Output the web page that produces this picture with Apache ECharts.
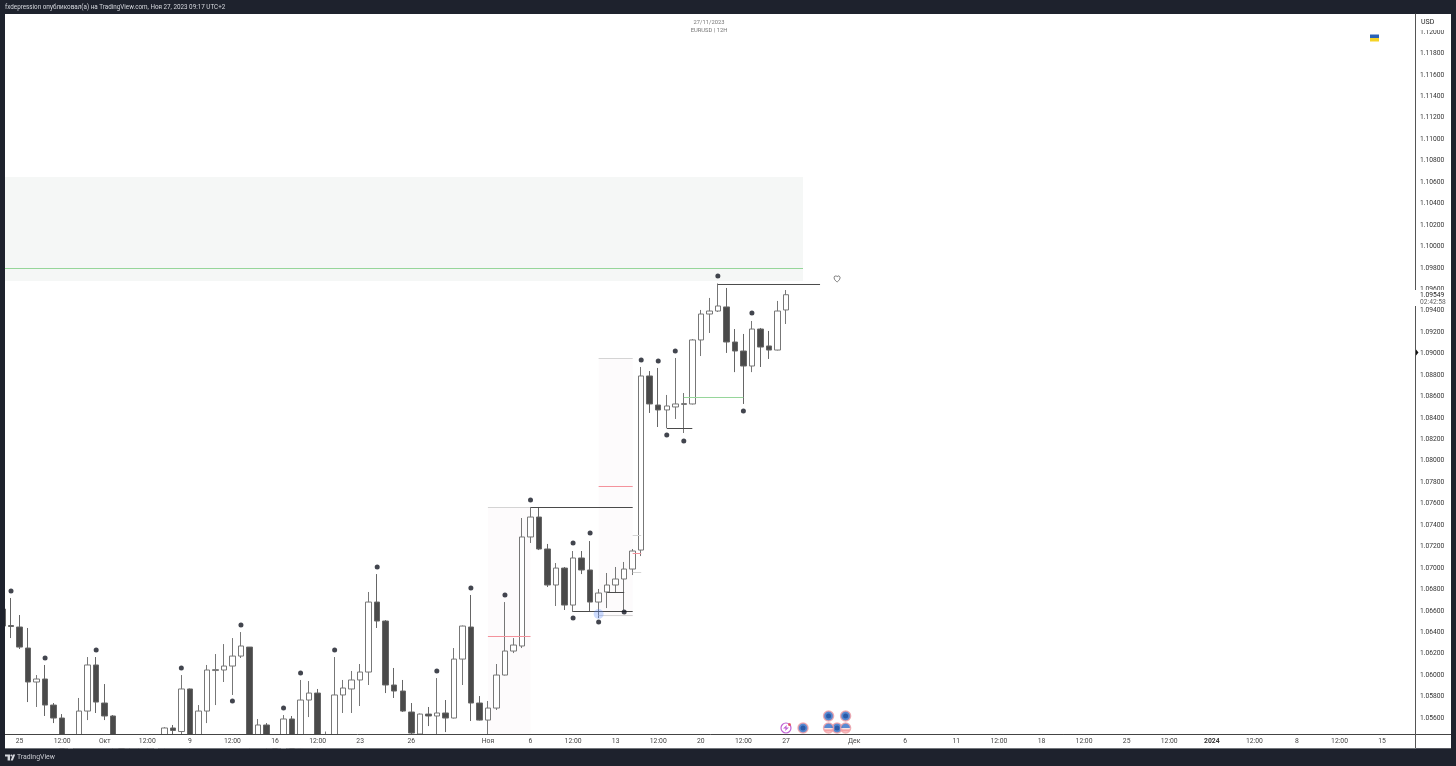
<!DOCTYPE html>
<html><head><meta charset="utf-8">
<style>html,body{margin:0;padding:0;background:#1e222d;overflow:hidden}#c{width:1456px;height:766px}</style>
<script src="https://cdn.jsdelivr.net/npm/echarts@6/dist/echarts.min.js"></script>
</head><body><div id="c"></div>
<script>
// Scales of the chart: price range and visible bar range
const priceMin = 1.05451, priceMax = 1.12168;
const barMin = 0.2936, barMax = 165.92;
const priceTicks = [1.056,1.058,1.06,1.062,1.064,1.066,1.068,1.07,1.072,1.074,1.076,1.078,1.08,1.082,1.084,1.086,1.088,1.09,1.092,1.094,1.096,1.098,1.1,1.102,1.104,1.106,1.108,1.11,1.112,1.114,1.116,1.118,1.12];
const timeTickBars = [2,7,12,17,22,27,32,37,42,48,57,62,67,72,77,82,87,92,100,106,112,117,122,127,132,137,142,147,152,157,162];
const timeTickLabels = ['25','12:00','Окт','12:00','9','12:00','16','12:00','23','26','Ноя','6','12:00','13','12:00','20','12:00','27','Дек','6','11','12:00','18','12:00','25','12:00','2024','12:00','8','12:00','15'];
// EURUSD 12H candles: open, close, low, high (bars beneath the visible range are estimates)
const candles = [
[1.06617,1.06458,1.06421,1.06654],[1.06463,1.06454,1.06346,1.06720],[1.06449,1.06262,1.06244,1.06561],[1.06253,1.05936,1.05749,1.06440],
[1.05936,1.05964,1.05703,1.06001],[1.05964,1.05721,1.05619,1.06095],[1.05721,1.05600,1.05553,1.05740],[1.05600,1.0530,1.0520,1.05637],
[1.0525,1.0540,1.0520,1.0542],[1.0540,1.05665,1.0535,1.05787],[1.05665,1.06095,1.05581,1.06169],[1.06095,1.05749,1.05647,1.06169],
[1.05740,1.05619,1.05581,1.05917],[1.05619,1.0535,1.0530,1.05628],[1.0535,1.0528,1.0522,1.0540],[1.0528,1.0520,1.0515,1.0535],
[1.0520,1.0530,1.0512,1.0535],[1.0530,1.0525,1.0520,1.0538],[1.0525,1.0535,1.0520,1.0540],[1.0535,1.05507,1.0530,1.05515],
[1.05507,1.05484,1.05442,1.05535],[1.05474,1.05871,1.05414,1.06001],[1.05871,1.0535,1.0530,1.05875],[1.0536,1.05665,1.0532,1.05721],
[1.05665,1.06048,1.05553,1.06095],[1.06043,1.06052,1.05721,1.06197],[1.06048,1.06085,1.05936,1.06290],[1.06085,1.06178,1.05815,1.06346],
[1.06178,1.06272,1.06160,1.06402],[1.06262,1.0535,1.0530,1.06262],[1.0537,1.05535,1.0532,1.05591],[1.05535,1.0533,1.0528,1.05553],
[1.0533,1.0525,1.0520,1.0540],[1.0530,1.05591,1.0525,1.05628],[1.05591,1.0530,1.0525,1.05619],[1.0532,1.05768,1.0528,1.05955],
[1.05768,1.05833,1.05609,1.05945],[1.05833,1.0533,1.0528,1.05871],[1.0535,1.0540,1.0530,1.05474],[1.0538,1.05815,1.0533,1.06169],
[1.05815,1.05880,1.05647,1.05955],[1.05871,1.05955,1.05647,1.06039],[1.05955,1.06029,1.05712,1.06104],[1.06029,1.06682,1.05908,1.06776],
[1.06682,1.06505,1.06440,1.06943],[1.06505,1.05908,1.05833,1.06514],[1.05908,1.05852,1.05787,1.06067],[1.05852,1.05665,1.05656,1.05955],
[1.05656,1.05460,1.05442,1.05740],[1.05451,1.05637,1.05442,1.05642],[1.05637,1.05619,1.05525,1.05703],[1.05619,1.05647,1.05395,1.05973],
[1.05647,1.05600,1.05469,1.05768],[1.05600,1.06150,1.05596,1.06253],[1.06150,1.06458,1.05908,1.06463],[1.06449,1.05740,1.05572,1.06748],
[1.05740,1.05581,1.05577,1.05805],[1.05581,1.05693,1.05395,1.05759],[1.05693,1.06001,1.05675,1.06104],[1.06001,1.06225,1.05997,1.06682],
[1.06225,1.06281,1.06206,1.06346],[1.06272,1.07289,1.06253,1.07466],[1.07289,1.07475,1.07233,1.07569],[1.07475,1.07177,1.07167,1.07569],
[1.07177,1.06841,1.06822,1.07224],[1.06841,1.06999,1.06645,1.07046],[1.06999,1.06654,1.06608,1.07009],[1.06654,1.07093,1.06589,1.07158],
[1.07093,1.06981,1.06943,1.07158],[1.06981,1.06682,1.06598,1.07251],[1.06682,1.06766,1.06533,1.06804],[1.06776,1.06841,1.06626,1.06953],
[1.06841,1.06897,1.06766,1.07009],[1.06897,1.06990,1.06608,1.07056],[1.06990,1.07158,1.06934,1.07177],[1.07167,1.08791,1.07111,1.08875],
[1.08791,1.08530,1.08446,1.08837],[1.08520,1.08474,1.08315,1.08866],[1.08474,1.08511,1.08306,1.08614],[1.08502,1.08530,1.08390,1.08959],
[1.08525,1.08534,1.08259,1.08632],[1.08530,1.09127,1.08525,1.09136],[1.09127,1.09369,1.08977,1.09407],[1.09369,1.09397,1.09192,1.09519],
[1.09397,1.09444,1.09388,1.09654],[1.09435,1.09108,1.09006,1.09612],[1.09108,1.09024,1.08827,1.09229],[1.09024,1.08884,1.08530,1.09183],
[1.08884,1.09229,1.08827,1.09304],[1.09229,1.09061,1.08875,1.09239],[1.09071,1.09033,1.08950,1.09211],[1.09033,1.09397,1.09029,1.09491],
[1.09407,1.09549,1.09276,1.09593]];
// Swing markers: bar, price
const swingDots = [[1,1.06785],[5,1.06160],[11,1.06234],[21,1.06067],[27,1.05759],[28,1.06468],[33,1.05693],[35,1.06020],[39,1.06234],[44,1.07009],[51,1.06039],[55,1.06813],[59,1.06748],[62,1.07634],[67,1.07233],[69,1.07326],[67,1.06533],[70,1.06496],[73,1.06589],[75,1.08940],[77,1.08931],[79,1.09024],[78,1.08240],[80,1.08184],[84,1.09724],[87,1.08464],[88,1.09379]];
// Horizontal drawings: first bar, last bar, price, kind
const levels = [
[0,94,1.097937,'green'],[84,96,1.096445,'dark'],[57,62,1.063606,'red'],[57,62,1.07564,'pale'],[62,74,1.07564,'dark'],
[70,74,1.089541,'pale'],[70,74,1.0776,'red'],[67,74,1.065938,'dark'],[70,74,1.065565,'pale'],[71,73,1.067711,'dark'],
[78,81,1.08301,'dark'],[80,87,1.085903,'green'],[74,75,1.071349,'red'],[74,75,1.073029,'pale'],[74,75,1.069576,'pale']];
// Shaded zones: first bar, last bar, top price, bottom price, kind
const zones = [[0,94,1.10647,1.09677,'supply'],[57,62,1.07564,1.05451,'tint'],[70,74,1.08959,1.06542,'tint']];
// Event icons along the time scale: bar, pinned price
const calendarIcons = [[94,1.05507],[97,1.05619],[99,1.05619],[98,1.05507]];
const flagIcons = [[97,1.05507],[99,1.05507]];
const alertIcon = [[92,1.05507]];
const touchPoint = [[70,1.06570]];
const heartPoint = [[98,1.09696]];

const levelColors = {green:'#96d69a',dark:'#4a4a4a',red:'#f4919b',pale:'#d4d4d4'};
const zoneColors = {supply:'#f5f7f6',tint:'#fdfbfc'};
const font = 'Roboto, "Noto Sans", sans-serif';

const tickMap = {};
timeTickBars.forEach((b,i)=>tickMap[b]=timeTickLabels[i]);
const heartPath = 'path://M12 21s-9-5.6-9-12a5 5 0 0 1 9-3 5 5 0 0 1 9 3c0 6.4-9 12-9 12z';
const boltPath = 'path://M13 1L4 14h6l-1 9 9-13h-6z';

const levelSeries = levels.map(l=>({type:'line',data:[[l[0],l[2]],[l[1],l[2]]],symbol:'none',silent:true,z:3,animation:false,
  lineStyle:{color:levelColors[l[3]],width:1}}));

const textEl = (x,y,text,size,color,align)=>({type:'text',z:120,style:{x,y,text,fontSize:size,fontFamily:font,fill:color,textAlign:align||'left',textVerticalAlign:'middle'}});
const box = (x,y,w,h,fill,z)=>({type:'rect',z:z,shape:{x,y,width:w,height:h},style:{fill}});

const chart = echarts.init(document.getElementById('c'),null,{renderer:'canvas'});
chart.setOption({
  animation:false,
  backgroundColor:'#1e222d',
  grid:{left:5,top:14,width:1410.5,height:720,containLabel:false},
  xAxis:{type:'value',min:barMin,max:barMax,z:50,
    axisLine:{show:true,onZero:false,lineStyle:{color:'#444',width:1}},axisTick:{show:false},splitLine:{show:false},
    axisLabel:{customValues:timeTickBars,showMinLabel:true,showMaxLabel:true,margin:4,fontSize:6.8,fontFamily:font,color:'#444',hideOverlap:false,
      formatter:v=>{const t=tickMap[v];return t===undefined?'':(t==='2024'?'{b|2024}':t);},
      rich:{b:{fontWeight:'bold',fontSize:6.8,fontFamily:font,color:'#333'}}}},
  yAxis:{type:'value',position:'right',min:priceMin,max:priceMax,scale:true,z:50,
    axisLine:{show:true,onZero:false,lineStyle:{color:'#555',width:1}},axisTick:{show:false},splitLine:{show:false},
    axisLabel:{customValues:priceTicks,margin:4.5,padding:[2,0,0,0],fontSize:6.7,fontFamily:font,color:'#333',formatter:v=>v.toFixed(5)}},
  graphic:[
    box(5,14,1446,734.5,'#ffffff',-1),
    box(0,14,5,721,'#1e222d',100),
    box(5,735,1411,13.5,'#ffffff',40),
    box(0,748.5,1456,18,'#1e222d',45),
    {type:'line',z:101,shape:{x1:1415.5,y1:734.5,x2:1451,y2:734.5},style:{stroke:'#444',lineWidth:1}},
    {type:'line',z:101,shape:{x1:1415.5,y1:734,x2:1415.5,y2:748},style:{stroke:'#555',lineWidth:1}},
    box(1416,14,34,16,'#ffffff',110),
    textEl(1421,22,'USD',7,'#222'),
    box(1413,290,38,16,'#ffffff',110),
    textEl(1420,295,'1.09549',6.7,'#222'),
    textEl(1420,302,'02:42:58',6.7,'#666'),
    {type:'polygon',z:115,shape:{points:[[1416,349.5],[1418.5,352.5],[1416,355.5]]},style:{fill:'#111'}},
    box(1370,34.5,9,3.5,'#2a63b8',20),
    box(1370,38,9,3.5,'#f5d327',20),
    textEl(709,22.5,'27/11/2023',5.8,'#777','center'),
    textEl(709,31,'EURUSD | 12H',5.8,'#777','center'),
    textEl(5,7.5,'fxdepression опубликовал(а) на TradingView.com, Ноя 27, 2023 09:17 UTC+2',6.3,'#d6d8de'),
    textEl(17,757.5,'TradingView',6.9,'#c8cad0'),
    {type:'polygon',z:120,shape:{points:[[5,754.5],[10,754.5],[10,760.5],[7.6,760.5],[7.6,756.6],[5,756.6]]},style:{fill:'#d6d8de'}},
    {type:'circle',z:120,shape:{cx:11.4,cy:755.5,r:1},style:{fill:'#d6d8de'}},
    {type:'polygon',z:120,shape:{points:[[13,754.5],[15.2,754.5],[12.8,760.5],[10.6,760.5]]},style:{fill:'#d6d8de'}}
  ],
  series:[
    {type:'line',data:[],silent:true,z:1,
      markArea:{silent:true,z:1,data:zones.map(a=>[
        {coord:[a[0],a[2]],itemStyle:{color:zoneColors[a[4]]}},{coord:[a[1],a[3]]}])}},
    {type:'candlestick',data:candles.map((c,i)=>[i,c[0],c[1],c[2],c[3]]),barWidth:6,z:2,clip:false,silent:true,
      itemStyle:{color:'#ffffff',color0:'#4a4a4a',borderColor:'#777777',borderColor0:'#666666',borderWidth:1}},
    ...levelSeries,
    {type:'scatter',data:touchPoint,symbolSize:10,z:4,silent:true,itemStyle:{color:'rgba(90,140,255,0.38)'}},
    {type:'scatter',data:swingDots,symbolSize:5,z:5,silent:true,itemStyle:{color:'#131722'}},
    {type:'scatter',data:heartPoint,symbol:heartPath,symbolSize:6,z:5,silent:true,itemStyle:{color:'#fff',borderColor:'#333',borderWidth:0.8}},
    {type:'scatter',data:calendarIcons,symbolSize:10,z:6,silent:true,itemStyle:{color:'#2a6ac4',borderColor:'#f2a0a6',borderWidth:1.5}},
    {type:'scatter',data:calendarIcons,symbolSize:5,z:7,silent:true,itemStyle:{color:'#1f4f9e'}},
    {type:'scatter',data:flagIcons,symbolSize:10,z:6,silent:true,
      itemStyle:{borderColor:'#f2a0a6',borderWidth:1.5,color:{type:'linear',x:0,y:0,x2:0,y2:1,colorStops:[{offset:0,color:'#2f6ec8'},{offset:0.5,color:'#2f6ec8'},{offset:0.5,color:'#f4f4f4'},{offset:0.7,color:'#f08088'},{offset:1,color:'#f4f4f4'}]}}},
    {type:'scatter',data:alertIcon,symbolSize:10,z:6,silent:true,itemStyle:{color:'#fff',borderColor:'#b23cc8',borderWidth:1.2}},
    {type:'scatter',data:alertIcon,symbol:boltPath,symbolSize:6,z:7,silent:true,itemStyle:{color:'#b23cc8'}},
    {type:'scatter',data:alertIcon,symbolSize:3,symbolOffset:[3.5,-3.5],z:8,silent:true,itemStyle:{color:'#e5484d'}}
  ]
});
</script></body></html>
